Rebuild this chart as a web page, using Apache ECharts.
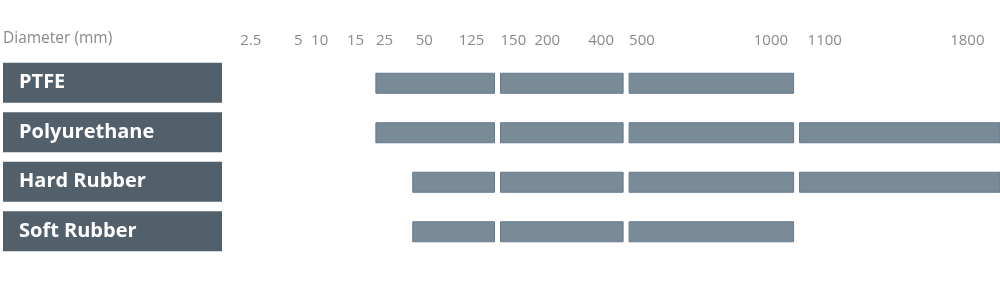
<!DOCTYPE html>
<html>
<head>
<meta charset="utf-8">
<script src="https://cdn.jsdelivr.net/npm/echarts@6/dist/echarts.min.js"></script>
<style>
  html, body { margin: 0; padding: 0; background: #ffffff; }
  #chart { width: 1000px; height: 302px; }
</style>
</head>
<body>
<div id="chart"></div>
<script>
// ---- data ----
const categories = ['PTFE', 'Polyurethane', 'Hard Rubber', 'Soft Rubber'];
const tickLabels = ['2.5', '5', '10', '15', '25', '50', '125', '150', '200', '400', '500', '1000', '1100', '1800'];
const tickValues = [2.5, 5, 10, 15, 25, 50, 125, 150, 200, 400, 500, 1000, 1100, 1800];
// diameter bands (mm): [band start, start of the next band]; Infinity = open-ended
const ptfe         = [[25, 150], [150, 500], [500, 1100]];
const polyurethane = [[25, 150], [150, 500], [500, 1100], [1100, Infinity]];
const hardRubber   = [[50, 150], [150, 500], [500, 1100], [1100, Infinity]];
const softRubber   = [[50, 150], [150, 500], [500, 1100]];
const materialBands = [ptfe, polyurethane, hardRubber, softRubber];

// ---- hand-drawn (non-linear) diameter scale: axis units (0-100) of each tick value ----
const AXIS_MAX = 100;
const axisStops = [23.8, 29.2, 30.9, 34.5, 37.4, 41.1, 45.7, 49.9, 53.3, 58.7, 62.8, 75.3, 79.9, 95.0];
function scale(d) {
  if (!isFinite(d)) return AXIS_MAX;
  if (d <= tickValues[0]) return axisStops[0];
  for (let i = 1; i < tickValues.length; i++) {
    if (d <= tickValues[i]) {
      const t = (d - tickValues[i - 1]) / (tickValues[i] - tickValues[i - 1]);
      return axisStops[i - 1] + t * (axisStops[i] - axisStops[i - 1]);
    }
  }
  return axisStops[axisStops.length - 1];
}

const segData = [];
materialBands.forEach((bands, row) => {
  bands.forEach(b => segData.push([scale(b[0]), scale(b[1]), row]));
});
const tickUnits = tickValues.map(scale);
const labelNudge = { '1100': 8, '50': 3 };

const GAP = 6, BAR_H = 20;
const chart = echarts.init(document.getElementById('chart'), null, { renderer: 'canvas' });
chart.setOption({
  animation: false,
  title: {
    text: 'Diameter (mm)', left: 3, top: 31, padding: 0,
    textStyle: { fontFamily: 'Open Sans', fontSize: 15.5, fontWeight: 'normal', color: '#8a8a8a' }
  },
  grid: { left: 0, right: 0, top: 58, bottom: 46, containLabel: false },
  xAxis: {
    type: 'value', position: 'top', min: 0, max: AXIS_MAX,
    axisLine: { show: false }, axisTick: { show: false }, splitLine: { show: false },
    axisLabel: {
      customValues: tickUnits,
      align: 'left', margin: 10,
      fontFamily: 'Open Sans', fontSize: 15, color: '#8a8a8a',
      formatter: function (v) {
        let best = 0;
        for (let i = 1; i < tickUnits.length; i++) {
          if (Math.abs(tickUnits[i] - v) < Math.abs(tickUnits[best] - v)) best = i;
        }
        const lab = tickLabels[best];
        return labelNudge[lab] ? '{n' + labelNudge[lab] + '|' + lab + '}' : lab;
      },
      rich: {
        n8: { padding: [0, 0, 0, 8], fontFamily: 'Open Sans', fontSize: 15, color: '#8a8a8a' },
        n3: { padding: [0, 0, 0, 3], fontFamily: 'Open Sans', fontSize: 15, color: '#8a8a8a' }
      }
    }
  },
  yAxis: {
    type: 'category', data: categories, inverse: true,
    axisLine: { show: false }, axisTick: { show: false }, splitLine: { show: false },
    axisLabel: {
      inside: true, margin: 0, align: 'left', verticalAlign: 'middle',
      backgroundColor: '#51606b', color: '#ffffff',
      fontFamily: 'Open Sans', fontWeight: 'bold', fontSize: 20,
      width: 203, height: 39, lineHeight: 39, padding: [1, 0, 0, 16]
    }
  },
  series: [{
    type: 'custom',
    data: segData,
    encode: { x: [0, 1], y: 2 },
    renderItem: function (params, api) {
      const s = api.coord([api.value(0), api.value(2)]);
      const e = api.coord([api.value(1), api.value(2)]);
      const gap = api.value(1) >= AXIS_MAX ? 0 : GAP;
      const cs = params.coordSys;
      const shape = echarts.graphic.clipRectByRect(
        { x: s[0], y: s[1] - BAR_H / 2 + 0.5, width: e[0] - s[0] - gap, height: BAR_H },
        { x: cs.x, y: cs.y, width: cs.width, height: cs.height }
      );
      return shape && {
        type: 'rect', shape: shape,
        style: { fill: '#798b97', stroke: '#66798a', lineWidth: 1 }
      };
    }
  }]
});
</script>
</body>
</html>
